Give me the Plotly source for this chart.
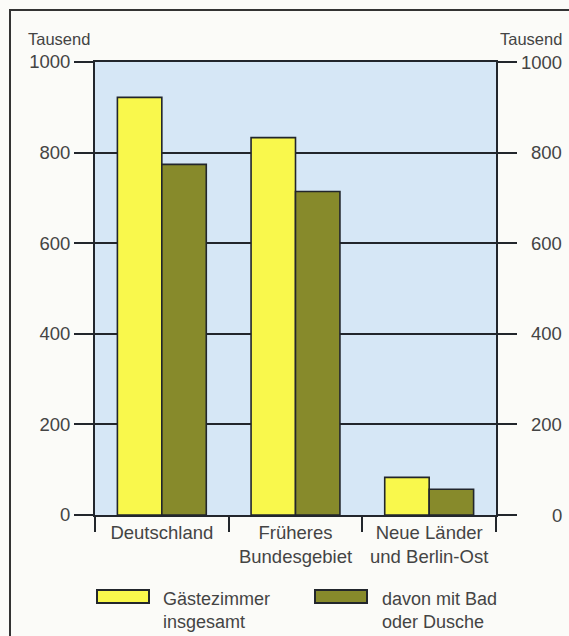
import plotly.graph_objects as go

# Gästezimmer in Beherbergungsbetrieben, in Tausend
kategorien = ["Deutschland", "Früheres<br>Bundesgebiet", "Neue Länder<br>und Berlin-Ost"]
gaestezimmer_insgesamt = [922, 833, 83]
davon_mit_bad_dusche = [774, 714, 57]

y_ticks = [0, 200, 400, 600, 800, 1000]
y_ticktext = ["0", "200", "400", "600", "800", "1000"]

serien_namen = ["Gästezimmer<br>insgesamt", "davon mit Bad<br>oder Dusche"]

GELB = "#f9f84c"
OLIV = "#878a2b"
HINTERGRUND = "#fbfbf8"
FLAECHE = "#d6e7f6"
LINIE = "#22262c"
TEXT = "#444444"
SCHRIFT = "Liberation Sans, Arial, sans-serif"

W, H = 569, 636
L, R, T, B = 95, 73, 62, 121
PW, PH = W - L - R, H - T - B


def px_x(px):
    return (px - L) / PW


def px_y(py):
    return (H - B - py) / PH


fig = go.Figure()
for name, werte, farbe in [
    (serien_namen[0], gaestezimmer_insgesamt, GELB),
    (serien_namen[1], davon_mit_bad_dusche, OLIV),
]:
    fig.add_trace(go.Bar(
        x=kategorien, y=werte, name=name,
        marker=dict(color=farbe, line=dict(color=LINIE, width=1.6)),
        showlegend=False, hoverinfo="skip",
    ))

fig.update_layout(
    width=W, height=H, autosize=False,
    margin=dict(l=L, r=R, t=T, b=B),
    paper_bgcolor=HINTERGRUND, plot_bgcolor=FLAECHE,
    barmode="group", bargap=0.335, bargroupgap=0,
    font=dict(family=SCHRIFT, size=18, color=TEXT),
    showlegend=False,
)

fig.update_xaxes(
    showline=True, linecolor=LINIE, linewidth=1.8, mirror=True,
    ticks="outside", tickson="boundaries", ticklen=15, tickwidth=1.8,
    tickcolor=LINIE, showgrid=False,
    tickfont=dict(family=SCHRIFT, size=18.5, color=TEXT),
)
fig.update_yaxes(
    range=[0, 1000], tickvals=y_ticks, ticktext=y_ticktext,
    showline=True, linecolor=LINIE, linewidth=1.8, mirror="ticks",
    ticks="outside", ticklen=19, tickwidth=1.6, tickcolor=LINIE,
    showgrid=True, gridcolor=LINIE, gridwidth=1.6, zeroline=False,
    tickfont=dict(family=SCHRIFT, size=18.5, color=TEXT),
)

# rechte Achsenbeschriftung, rechtsbündig
for v, t in zip(y_ticks, y_ticktext):
    fig.add_annotation(
        xref="paper", yref="y", x=px_x(564), y=v, text=t,
        showarrow=False, xanchor="right", yanchor="middle",
        font=dict(family=SCHRIFT, size=18.5, color=TEXT),
    )

# Einheit über beiden Achsen
fig.add_annotation(xref="paper", yref="paper", x=px_x(26), y=px_y(39),
                   text="Tausend", showarrow=False, xanchor="left",
                   yanchor="middle", font=dict(family=SCHRIFT, size=16.5, color=TEXT))
fig.add_annotation(xref="paper", yref="paper", x=px_x(564), y=px_y(39),
                   text="Tausend", showarrow=False, xanchor="right",
                   yanchor="middle", font=dict(family=SCHRIFT, size=16.5, color=TEXT))

# Rahmen links und oben
fig.add_shape(type="path", xref="paper", yref="paper",
              path=f"M {px_x(10)} {px_y(640)} L {px_x(10)} {px_y(10)} L {px_x(575)} {px_y(10)}",
              line=dict(color="#333333", width=2))

# Legende mit breiten Farbfeldern
legende = [
    (serien_namen[0], GELB, 97, 161),
    (serien_namen[1], OLIV, 315, 380),
]
for name, farbe, x0, xt in legende:
    fig.add_shape(type="rect", xref="paper", yref="paper",
                  x0=px_x(x0), x1=px_x(x0 + 52), y0=px_y(603), y1=px_y(590),
                  fillcolor=farbe, line=dict(color=LINIE, width=2))
    fig.add_annotation(xref="paper", yref="paper", x=px_x(xt), y=px_y(587),
                       text=name, showarrow=False, xanchor="left", yanchor="top",
                       align="left", font=dict(family=SCHRIFT, size=18, color=TEXT))

fig.write_html("out.html")
